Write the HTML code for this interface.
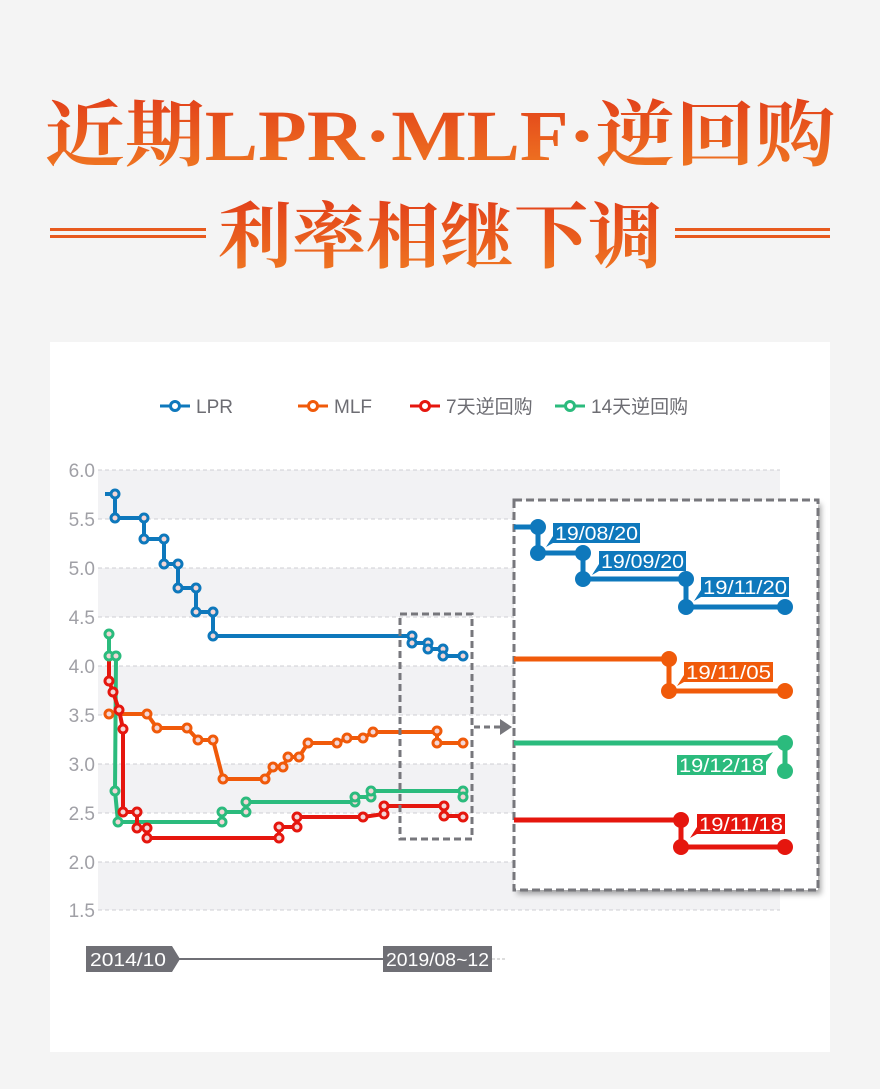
<!DOCTYPE html>
<html><head><meta charset="utf-8">
<style>
html,body{margin:0;padding:0;background:#f4f4f4;}
svg{display:block;}
text{font-family:"Liberation Sans","Noto Sans CJK SC",sans-serif;}
</style></head>
<body>
<svg width="880" height="1089" viewBox="0 0 880 1089" xmlns="http://www.w3.org/2000/svg">
<defs>
<linearGradient id="tg" x1="0" y1="0" x2="0" y2="1">
<stop offset="0" stop-color="#e2401a"/><stop offset="1" stop-color="#f07a22"/>
</linearGradient>
<filter id="sh" x="-10%" y="-10%" width="130%" height="130%"><feDropShadow dx="3" dy="4" stdDeviation="3" flood-color="#000" flood-opacity="0.35"/></filter>
</defs>
<rect width="880" height="1089" fill="#f4f4f4"/>
<!-- title -->
<text x="45" y="160" font-size="72" font-weight="bold" textLength="790" lengthAdjust="spacingAndGlyphs" fill="url(#tg)" style="font-family:'Liberation Serif','Noto Serif CJK SC',serif">近期LPR·MLF·逆回购</text>
<text x="218" y="262" font-size="72" font-weight="bold" textLength="444" lengthAdjust="spacingAndGlyphs" fill="url(#tg)" style="font-family:'Liberation Serif','Noto Serif CJK SC',serif">利率相继下调</text>
<rect x="50" y="228" width="156" height="3" fill="#e85a1e"/><rect x="50" y="235" width="156" height="3" fill="#e85a1e"/>
<rect x="675" y="228" width="155" height="3" fill="#e85a1e"/><rect x="675" y="235" width="155" height="3" fill="#e85a1e"/>
<!-- card -->
<rect x="50" y="342" width="780" height="710" fill="#ffffff"/>
<!-- bands -->
<g fill="#f2f2f4">
<rect x="98" y="470" width="682" height="49"/><rect x="98" y="568" width="682" height="49"/>
<rect x="98" y="666" width="682" height="49"/><rect x="98" y="764" width="682" height="49"/>
<rect x="98" y="862" width="682" height="48"/>
</g>
<g stroke="#cfcfd3" stroke-dasharray="4,3" stroke-width="1">
<line x1="98" y1="470" x2="780" y2="470"/><line x1="98" y1="519" x2="780" y2="519"/>
<line x1="98" y1="568" x2="780" y2="568"/><line x1="98" y1="617" x2="780" y2="617"/>
<line x1="98" y1="666" x2="780" y2="666"/><line x1="98" y1="715" x2="780" y2="715"/>
<line x1="98" y1="764" x2="780" y2="764"/><line x1="98" y1="813" x2="780" y2="813"/>
<line x1="98" y1="862" x2="780" y2="862"/><line x1="98" y1="910" x2="780" y2="910"/>
</g>
<g fill="#a0a0a6" font-size="19" text-anchor="end">
<text x="95" y="477">6.0</text><text x="95" y="526">5.5</text><text x="95" y="575">5.0</text>
<text x="95" y="624">4.5</text><text x="95" y="673">4.0</text><text x="95" y="722">3.5</text>
<text x="95" y="771">3.0</text><text x="95" y="820">2.5</text><text x="95" y="869">2.0</text>
<text x="95" y="917">1.5</text>
</g>
<!-- legend -->
<g stroke-width="3" fill="#fff">
<line x1="160" y1="406" x2="190" y2="406" stroke="#0e78bc"/><circle cx="175" cy="406" r="4.5" stroke="#0e78bc"/>
<line x1="298" y1="406" x2="328" y2="406" stroke="#f05a0a"/><circle cx="313" cy="406" r="4.5" stroke="#f05a0a"/>
<line x1="410" y1="406" x2="440" y2="406" stroke="#e5160e"/><circle cx="425" cy="406" r="4.5" stroke="#e5160e"/>
<line x1="555" y1="406" x2="585" y2="406" stroke="#2bbb7d"/><circle cx="570" cy="406" r="4.5" stroke="#2bbb7d"/>
</g>
<g fill="#6d6d73" font-size="19">
<text x="196" y="413">LPR</text><text x="334" y="413">MLF</text><text x="446" y="413">7天逆回购</text><text x="591" y="413">14天逆回购</text>
</g>
<!-- series -->
<g fill="none" stroke-width="4" stroke-linejoin="round">
<polyline stroke="#0e78bc" points="105,494 115,494 115,518 144,518 144,539 164,539 164,564 178,564 178,588 196,588 196,612 213,612 213,636 412,636 412,643 428,643 428,649 443,649 443,656 463,656"/>
<polyline stroke="#f05a0a" points="105,714 147,714 157,728 187,728 198,740 213,740 223,779 265,779 273,767 283,767 288,757 299,757 308,743 337,743 347,738 363,738 373,732 437,732 437,743 463,743"/>
<polyline stroke="#2bbb7d" points="109,634 109,656 116,656 115,791 118,822 222,822 222,812 246,812 246,802 355,802 355,797 371,797 371,791 463,791 463,797"/>
<polyline stroke="#e5160e" points="109,660 109,681 113,692 119,710 123,729 123,812 137,812 137,828 147,828 147,838 279,838 279,827 297,827 297,817 363,817 384,814 384,806 444,806 444,816 463,816"/>
</g>
<g fill="#f3d6d6" stroke-width="3">
<g stroke="#0e78bc"><circle cx="115" cy="494" r="4"/><circle cx="115" cy="518" r="4"/><circle cx="144" cy="518" r="4"/><circle cx="144" cy="539" r="4"/><circle cx="164" cy="539" r="4"/><circle cx="164" cy="564" r="4"/><circle cx="178" cy="564" r="4"/><circle cx="178" cy="588" r="4"/><circle cx="196" cy="588" r="4"/><circle cx="196" cy="612" r="4"/><circle cx="213" cy="612" r="4"/><circle cx="213" cy="636" r="4"/><circle cx="412" cy="636" r="4"/><circle cx="412" cy="643" r="4"/><circle cx="428" cy="643" r="4"/><circle cx="428" cy="649" r="4"/><circle cx="443" cy="649" r="4"/><circle cx="443" cy="656" r="4"/><circle cx="463" cy="656" r="4"/></g>
<g stroke="#f05a0a"><circle cx="109" cy="714" r="4"/><circle cx="147" cy="714" r="4"/><circle cx="157" cy="728" r="4"/><circle cx="187" cy="728" r="4"/><circle cx="198" cy="740" r="4"/><circle cx="213" cy="740" r="4"/><circle cx="223" cy="779" r="4"/><circle cx="265" cy="779" r="4"/><circle cx="273" cy="767" r="4"/><circle cx="283" cy="767" r="4"/><circle cx="288" cy="757" r="4"/><circle cx="299" cy="757" r="4"/><circle cx="308" cy="743" r="4"/><circle cx="337" cy="743" r="4"/><circle cx="347" cy="738" r="4"/><circle cx="363" cy="738" r="4"/><circle cx="373" cy="732" r="4"/><circle cx="437" cy="731" r="4"/><circle cx="437" cy="743" r="4"/><circle cx="463" cy="743" r="4"/></g>
<g stroke="#2bbb7d"><circle cx="109" cy="634" r="4"/><circle cx="109" cy="656" r="4"/><circle cx="116" cy="656" r="4"/><circle cx="115" cy="791" r="4"/><circle cx="118" cy="822" r="4"/><circle cx="222" cy="822" r="4"/><circle cx="222" cy="812" r="4"/><circle cx="246" cy="812" r="4"/><circle cx="246" cy="802" r="4"/><circle cx="355" cy="802" r="4"/><circle cx="355" cy="797" r="4"/><circle cx="371" cy="797" r="4"/><circle cx="371" cy="791" r="4"/><circle cx="463" cy="791" r="4"/><circle cx="463" cy="797" r="4"/></g>
<g stroke="#e5160e"><circle cx="109" cy="681" r="4"/><circle cx="113" cy="692" r="4"/><circle cx="119" cy="710" r="4"/><circle cx="123" cy="729" r="4"/><circle cx="123" cy="812" r="4"/><circle cx="137" cy="812" r="4"/><circle cx="137" cy="828" r="4"/><circle cx="147" cy="828" r="4"/><circle cx="147" cy="838" r="4"/><circle cx="279" cy="838" r="4"/><circle cx="279" cy="827" r="4"/><circle cx="297" cy="827" r="4"/><circle cx="297" cy="817" r="4"/><circle cx="363" cy="817" r="4"/><circle cx="384" cy="814" r="4"/><circle cx="384" cy="806" r="4"/><circle cx="444" cy="806" r="4"/><circle cx="444" cy="816" r="4"/><circle cx="463" cy="817" r="4"/></g>
</g>
<!-- small dashed box + arrow -->
<rect x="400" y="614" width="72" height="225" fill="none" stroke="#77777c" stroke-width="3" stroke-dasharray="7,4"/>
<line x1="474" y1="727" x2="500" y2="727" stroke="#77777c" stroke-width="3" stroke-dasharray="6,4"/>
<polygon points="500,719 512,727 500,735" fill="#77777c"/>
<!-- zoom box -->
<rect x="514" y="500" width="304" height="390" fill="#fff" filter="url(#sh)"/>
<rect x="514" y="500" width="304" height="390" fill="none" stroke="#77777c" stroke-width="3" stroke-dasharray="8,4"/>
<g fill="none" stroke-width="5">
<polyline stroke="#0e78bc" points="514,527 538,527 538,553 583,553 583,579 686,579 686,607 785,607"/>
<polyline stroke="#f05a0a" points="514,659 669,659 669,691 785,691"/>
<polyline stroke="#2bbb7d" points="514,743 785,743 785,771"/>
<polyline stroke="#e5160e" points="514,820 681,820 681,847 785,847"/>
</g>
<g>
<g fill="#0e78bc"><circle cx="538" cy="527" r="8"/><circle cx="538" cy="553" r="8"/><circle cx="583" cy="553" r="8"/><circle cx="583" cy="579" r="8"/><circle cx="686" cy="579" r="8"/><circle cx="686" cy="607" r="8"/><circle cx="785" cy="607" r="8"/></g>
<g fill="#f05a0a"><circle cx="669" cy="659" r="8"/><circle cx="669" cy="691" r="8"/><circle cx="785" cy="691" r="8"/></g>
<g fill="#2bbb7d"><circle cx="785" cy="743" r="8"/><circle cx="785" cy="771" r="8"/></g>
<g fill="#e5160e"><circle cx="681" cy="820" r="8"/><circle cx="681" cy="847" r="8"/><circle cx="785" cy="847" r="8"/></g>
</g>
<g font-size="19" fill="#fff">
<rect x="553" y="523" width="87" height="20" fill="#0e78bc"/><polygon points="553,536 553,543 546,547" fill="#0e78bc"/><text x="555" y="540" textLength="83" lengthAdjust="spacingAndGlyphs">19/08/20</text>
<rect x="599" y="551" width="87" height="20" fill="#0e78bc"/><polygon points="599,564 599,571 592,575" fill="#0e78bc"/><text x="601" y="568" textLength="83" lengthAdjust="spacingAndGlyphs">19/09/20</text>
<rect x="701" y="577" width="88" height="20" fill="#0e78bc"/><polygon points="701,590 701,597 694,601" fill="#0e78bc"/><text x="703" y="594" textLength="84" lengthAdjust="spacingAndGlyphs">19/11/20</text>
<rect x="684" y="662" width="89" height="20" fill="#f05a0a"/><polygon points="684,675 684,682 677,686" fill="#f05a0a"/><text x="686" y="679" textLength="85" lengthAdjust="spacingAndGlyphs">19/11/05</text>
<rect x="677" y="755" width="89" height="20" fill="#2bbb7d"/><polygon points="766,755 766,762 773,752" fill="#2bbb7d"/><text x="679" y="772" textLength="85" lengthAdjust="spacingAndGlyphs">19/12/18</text>
<rect x="697" y="814" width="88" height="20" fill="#e5160e"/><polygon points="697,827 697,834 690,838" fill="#e5160e"/><text x="699" y="831" textLength="84" lengthAdjust="spacingAndGlyphs">19/11/18</text>
</g>
<!-- bottom timeline -->
<line x1="172" y1="959" x2="384" y2="959" stroke="#6f6f75" stroke-width="2"/>
<line x1="492" y1="959" x2="505" y2="959" stroke="#bbb" stroke-width="1" stroke-dasharray="3,2"/>
<polygon points="86,946 172,946 180,959 172,972 86,972" fill="#6f6f75"/>
<rect x="383" y="946" width="109" height="26" fill="#6f6f75"/>
<g fill="#fff" font-size="18">
<text x="90" y="966" textLength="76" lengthAdjust="spacingAndGlyphs">2014/10</text>
<text x="386" y="966" textLength="103" lengthAdjust="spacingAndGlyphs">2019/08~12</text>
</g>
</svg>
</body></html>
